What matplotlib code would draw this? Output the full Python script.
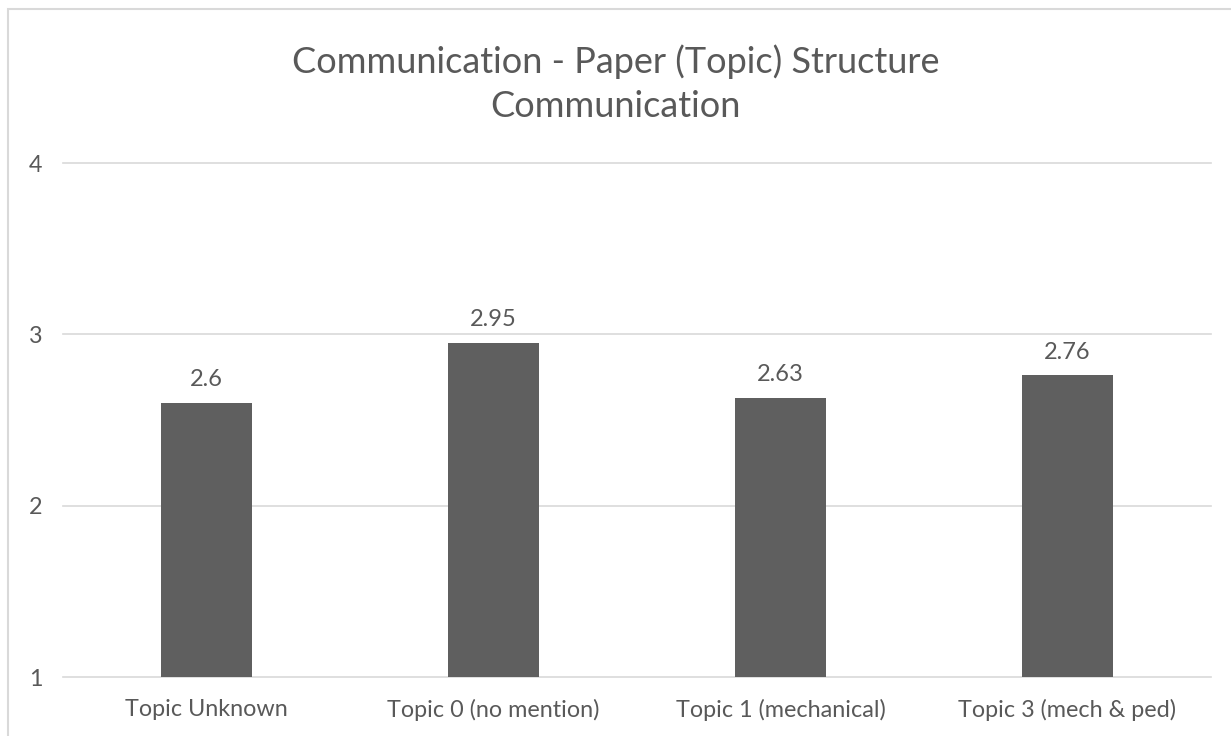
import matplotlib.pyplot as plt
from matplotlib.patches import Rectangle

categories = ['Topic Unknown', 'Topic 0 (no mention)', 'Topic 1 (mechanical)', 'Topic 3 (mech & ped)']
values = [2.6, 2.95, 2.63, 2.76]
yticks = [1, 2, 3, 4]

txt = '#595959'
plt.rcParams['font.family'] = ['Lato', 'DejaVu Sans']

fig = plt.figure(figsize=(12.31, 7.36), dpi=100)
ax = fig.add_axes([63/1231, 1-677/736, 1148/1231, 514/736])

x = range(len(categories))
ax.bar(x, [v - 1 for v in values], bottom=1, width=0.314, color='#5f5f5f', zorder=3)
for i, v in zip(x, values):
    ax.text(i, v + 0.075, '{:g}'.format(v), ha='center', va='bottom', fontsize=17, color=txt)

ax.set_xlim(-0.5, len(categories) - 0.5)
ax.set_ylim(1, 4)
ax.set_yticks(yticks)
ax.set_xticks(list(x))
ax.set_xticklabels(categories)
ax.tick_params(length=0, labelsize=16.8, colors=txt)
ax.tick_params(axis='y', pad=15)
ax.tick_params(axis='x', pad=16)
ax.grid(axis='y', color='#d9d9d9', lw=1.2, zorder=0)
for g in ax.get_ygridlines():
    g.set_clip_on(False)
for s in ax.spines.values():
    s.set_visible(False)

fig.text(0.5, 1-84/736, 'Communication - Paper (Topic) Structure\nCommunication',
         ha='center', va='center', fontsize=26, color=txt, linespacing=1.42)

fig.patches.append(Rectangle((8/1231, -0.01), 1.1, 1-9/736+0.01, transform=fig.transFigure,
                             fill=False, edgecolor='#d9d9d9', lw=1.5))

fig.savefig('out.png', dpi=100)
